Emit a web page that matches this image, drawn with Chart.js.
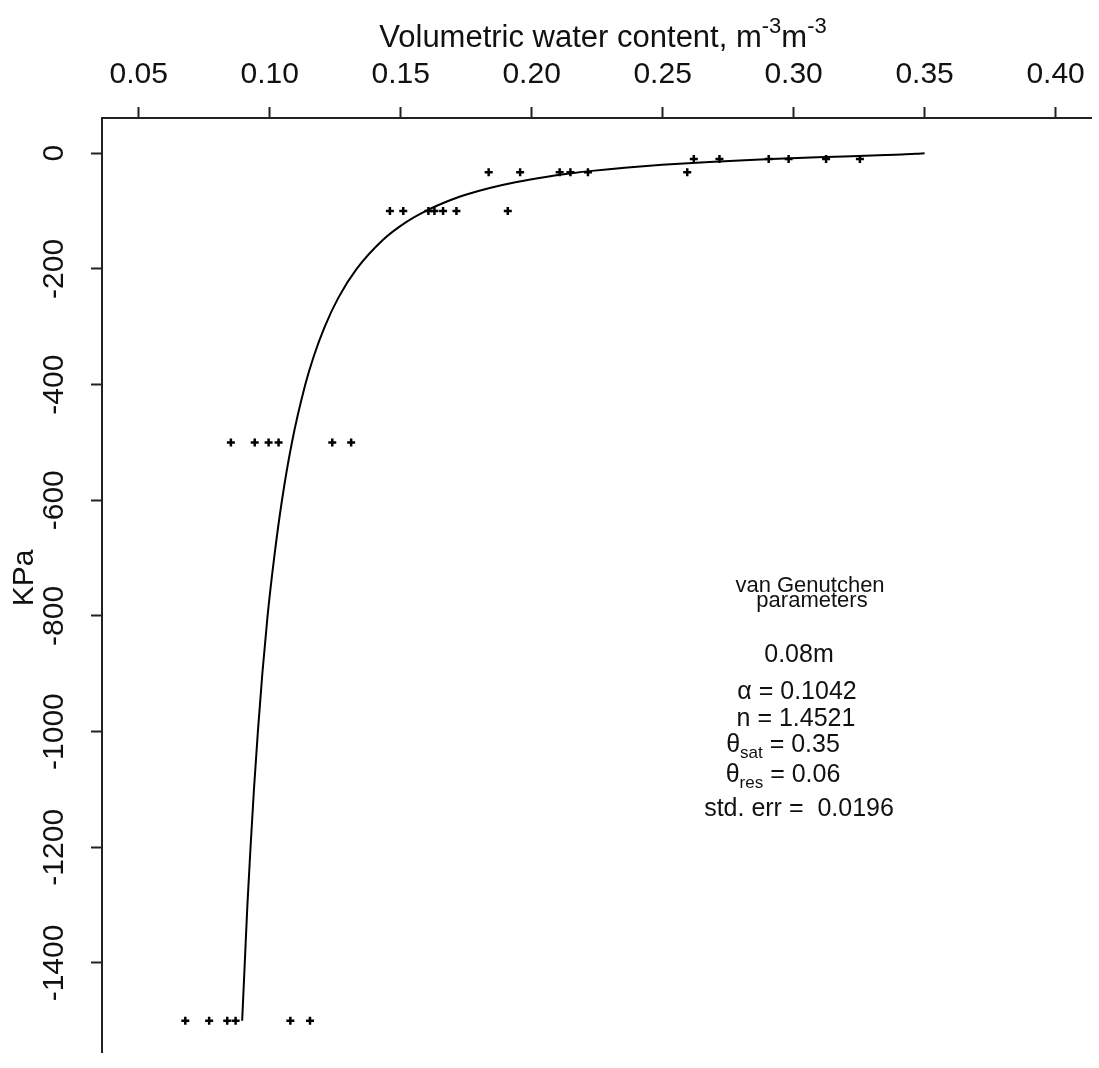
<!DOCTYPE html>
<html><head><meta charset="utf-8">
<script src="https://cdn.jsdelivr.net/npm/chart.js@4.4.1/dist/chart.umd.min.js"></script>
<style>
html,body{margin:0;padding:0;overflow:hidden;background:#fff;}
canvas{display:block;}
</style></head><body>
<canvas id="c" width="1099" height="1068"></canvas>
<script>
// ---- data ----
const xTicks = [0.05, 0.10, 0.15, 0.20, 0.25, 0.30, 0.35, 0.40];
const yTicks = [0, -200, -400, -600, -800, -1000, -1200, -1400];

// observed points (theta, KPa)
const obsTheta = [0.0678, 0.0769, 0.0838, 0.0870, 0.1079, 0.1154,
                  0.0852, 0.0943, 0.0996, 0.1034, 0.1239, 0.1311,
                  0.1459, 0.1510, 0.1606, 0.1629, 0.1662, 0.1713, 0.1909,
                  0.1836, 0.1956, 0.2107, 0.2148, 0.2215, 0.2594,
                  0.2619, 0.2717, 0.2905, 0.2981, 0.3124, 0.3253];
const obsKPa   = [-1500, -1500, -1500, -1500, -1500, -1500,
                  -500, -500, -500, -500, -500, -500,
                  -100, -100, -100, -100, -100, -100, -100,
                  -33, -33, -33, -33, -33, -33,
                  -10, -10, -10, -10, -10, -10];

// fitted curve
const fitKPa   = [-1500, -1400, -1300, -1200, -1100, -1000, -900, -800, -700, -600,
                  -500, -400, -350, -300, -250, -200, -150, -120, -100, -80,
                  -70, -60, -50, -40, -35, -30, -25, -20, -15, -12,
                  -10, -7, -5, -3, -2, -1, 0];
const fitTheta = [0.0895, 0.0905, 0.0915, 0.0927, 0.0940, 0.0955, 0.0972, 0.0992, 0.1017, 0.1047,
                  0.1085, 0.1136, 0.1169, 0.1210, 0.1262, 0.1332, 0.1432, 0.1518, 0.1595, 0.1696,
                  0.1761, 0.1840, 0.1938, 0.2066, 0.2146, 0.2240, 0.2355, 0.2498, 0.2679, 0.2813,
                  0.2915, 0.3090, 0.3219, 0.3351, 0.3413, 0.3467, 0.3500];

const xTitle = 'Volumetric water content, m';
const xTitleSup = '-3';
const yTitle = 'KPa';
const noteHead = ['van Genutchen', 'parameters'];
const noteDepth = '0.08m';
const noteAlpha = 'α = 0.1042';
const noteN = 'n = 1.4521';
const noteSat = ['θ', 'sat', ' = 0.35'];
const noteRes = ['θ', 'res', ' = 0.06'];
const noteErr = 'std. err =  0.0196';

const FAM = "'Liberation Sans',Arial,sans-serif";

function rich(ctx, parts, cx, y) {
  let w = 0;
  parts.forEach(p => { ctx.font = p.f; p.w = ctx.measureText(p.t).width; w += p.w; });
  let x = cx - w / 2;
  ctx.textAlign = 'left'; ctx.textBaseline = 'alphabetic';
  parts.forEach(p => { ctx.font = p.f; ctx.fillText(p.t, x, y + (p.dy || 0)); x += p.w; });
}

const textPlugin = {
  id: 'texts',
  afterDraw(chart) {
    const ctx = chart.ctx;
    ctx.save();
    ctx.fillStyle = '#111';
    // x title
    const big = '31px ' + FAM, sup = '22px ' + FAM;
    rich(ctx, [{t: xTitle, f: big}, {t: xTitleSup, f: sup, dy: -14}, {t: 'm', f: big}, {t: xTitleSup, f: sup, dy: -14}],
         603, 47);
    // y title
    ctx.save();
    ctx.translate(25, 578); ctx.rotate(-Math.PI / 2);
    ctx.font = '30px ' + FAM; ctx.textAlign = 'center'; ctx.textBaseline = 'middle';
    ctx.fillText(yTitle, 0, 0);
    ctx.restore();
    // note block
    const nf = '25px ' + FAM, sf = '17px ' + FAM;
    rich(ctx, [{t: noteHead[0], f: '22px ' + FAM}], 810, 592);
    rich(ctx, [{t: noteHead[1], f: '22px ' + FAM}], 812, 607);
    rich(ctx, [{t: noteDepth, f: nf}], 799, 662);
    rich(ctx, [{t: noteAlpha, f: nf}], 797, 699);
    rich(ctx, [{t: noteN, f: nf}], 796, 726);
    rich(ctx, [{t: noteSat[0], f: nf}, {t: noteSat[1], f: sf, dy: 6}, {t: noteSat[2], f: nf}], 783, 752);
    rich(ctx, [{t: noteRes[0], f: nf}, {t: noteRes[1], f: sf, dy: 6}, {t: noteRes[2], f: nf}], 783, 782);
    rich(ctx, [{t: noteErr, f: nf}], 799, 816);
    ctx.restore();
  }
};

new Chart(document.getElementById('c'), {
  type: 'scatter',
  data: {
    datasets: [
      {
        type: 'line',
        data: fitTheta.map((t, i) => ({x: t, y: fitKPa[i]})),
        borderColor: '#000', borderWidth: 2, pointRadius: 0,
        cubicInterpolationMode: 'monotone', fill: false, order: 2
      },
      {
        data: obsTheta.map((t, i) => ({x: t, y: obsKPa[i]})),
        pointStyle: 'cross', pointRadius: 4, borderColor: '#000', backgroundColor: '#000',
        pointBorderWidth: 2.5, order: 1
      }
    ]
  },
  options: {
    responsive: false, animation: false, devicePixelRatio: 1,
    layout: {padding: 0},
    plugins: {legend: {display: false}, tooltip: {enabled: false}},
    scales: {
      x: {
        type: 'linear', position: 'top', min: 0.036, max: 0.4137,
        afterBuildTicks: s => { s.ticks = xTicks.map(v => ({value: v})); },
        afterFit: s => { s.height = 118; },
        ticks: {callback: v => v.toFixed(2), font: {size: 30, family: FAM}, color: '#111',
                padding: 14, maxRotation: 0, minRotation: 0, autoSkip: false},
        grid: {drawOnChartArea: false, drawTicks: true, tickLength: 11, tickWidth: 2, color: '#222'},
        border: {display: true, color: '#222', width: 2}
      },
      y: {
        type: 'linear', position: 'left', min: -1554, max: 61,
        afterBuildTicks: s => { s.ticks = yTicks.map(v => ({value: v})); },
        afterFit: s => { s.width = 102; },
        ticks: {callback: v => String(v), font: {size: 30, family: FAM}, color: '#111',
                padding: -2, minRotation: 90, maxRotation: 90, crossAlign: 'center', autoSkip: false},
        grid: {drawOnChartArea: false, drawTicks: true, tickLength: 11, tickWidth: 2, color: '#222'},
        border: {display: true, color: '#222', width: 2}
      }
    }
  },
  plugins: [textPlugin]
});
</script>
</body></html>
